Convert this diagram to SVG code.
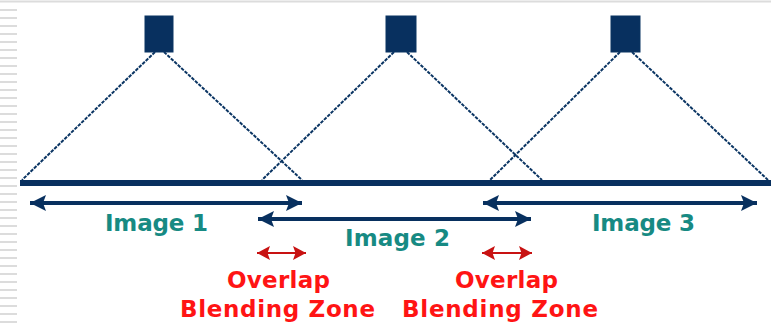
<svg xmlns="http://www.w3.org/2000/svg" width="771" height="328" viewBox="0 0 771 328">
<defs>
<style>
.bg{fill:#ffffff}
.tick{stroke:#dcdcdc;stroke-width:2}
.proj{fill:#08305f;stroke:#0b3563;stroke-width:1}
.ray{stroke:#0b3563;stroke-width:2;stroke-dasharray:3.5 1.2;fill:none}
.base{fill:#08305f}
.span{stroke:#08305f;stroke-width:4;fill:none}
.zone{stroke:#c81212;stroke-width:2;fill:none}
.lbl{font-family:"DejaVu Sans","Liberation Sans",sans-serif;font-weight:bold;font-size:23px;fill:#178a83;text-anchor:middle}
.red{font-family:"DejaVu Sans","Liberation Sans",sans-serif;font-weight:bold;font-size:23px;fill:#ff1414;text-anchor:middle}
</style>
<marker id="ah" viewBox="-1 -9 18 18" refX="16" refY="0" markerWidth="18" markerHeight="18" markerUnits="userSpaceOnUse" orient="auto-start-reverse">
<path d="M0,-8 L16,0 L0,8 L3,0 Z" fill="#08305f"/>
</marker>
<marker id="rh" viewBox="-1 -8 15 16" refX="13" refY="0" markerWidth="15" markerHeight="16" markerUnits="userSpaceOnUse" orient="auto-start-reverse">
<path d="M0,-7 L13,0 L0,7 L2.5,0 Z" fill="#c81212"/>
</marker>
</defs>
<rect class="bg" x="0" y="0" width="771" height="328"/>
<g id="frame">
<line class="tick" x1="0" y1="1.5" x2="771" y2="1.5"/>
<path class="tick" d="M0,10H17M0,18H17M0,26H17M0,34H17M0,42H17M0,50H17M0,58H17M0,66H17M0,74H17M0,82H17M0,90H17M0,98H17M0,106H17M0,114H17M0,122H17M0,130H17M0,138H17M0,146H17M0,154H17M0,162H17M0,170H17M0,178H17M0,186H17M0,194H17M0,202H17M0,210H17M0,218H17M0,226H17M0,234H17M0,242H17M0,250H17M0,258H17M0,266H17M0,274H17M0,282H17M0,290H17M0,298H17M0,306H17M0,314H17M0,322H17"/>
</g>
<g id="screen">
<rect class="base" x="20" y="180" width="751" height="6"/>
</g>
<g id="projector1"><rect class="proj" x="145" y="16" width="28" height="36"/></g>
<g id="projector2"><rect class="proj" x="386" y="16" width="30" height="36"/></g>
<g id="projector3"><rect class="proj" x="611" y="16" width="29" height="36"/></g>
<g id="connectors">
<line class="ray" x1="155" y1="52" x2="22" y2="180"/>
<line class="ray" x1="164" y1="52" x2="302" y2="180"/>
<line class="ray" x1="394" y1="52" x2="262" y2="180"/>
<line class="ray" x1="407" y1="52" x2="542" y2="180"/>
<line class="ray" x1="620" y1="52" x2="490" y2="180"/>
<line class="ray" x1="632" y1="52" x2="768" y2="180"/>
<line class="span" x1="30" y1="203" x2="302" y2="203" marker-start="url(#ah)" marker-end="url(#ah)"/>
<line class="span" x1="258" y1="219" x2="531" y2="219" marker-start="url(#ah)" marker-end="url(#ah)"/>
<line class="span" x1="483" y1="203" x2="757" y2="203" marker-start="url(#ah)" marker-end="url(#ah)"/>
<line class="zone" x1="257" y1="253" x2="306" y2="253" marker-start="url(#rh)" marker-end="url(#rh)"/>
<line class="zone" x1="482" y1="253" x2="532" y2="253" marker-start="url(#rh)" marker-end="url(#rh)"/>
</g>
<g id="labels">
<text class="lbl" x="156.5" y="231" textLength="103" lengthAdjust="spacing">Image 1</text>
<text class="lbl" x="397.5" y="246" textLength="105" lengthAdjust="spacing">Image 2</text>
<text class="lbl" x="643.5" y="231" textLength="103" lengthAdjust="spacing">Image 3</text>
<text class="red" x="278.5" y="288" textLength="103" lengthAdjust="spacing">Overlap</text>
<text class="red" x="277.5" y="317" textLength="195" lengthAdjust="spacing">Blending Zone</text>
<text class="red" x="506.5" y="288" textLength="103" lengthAdjust="spacing">Overlap</text>
<text class="red" x="500" y="317" textLength="196" lengthAdjust="spacing">Blending Zone</text>
</g>
</svg>
